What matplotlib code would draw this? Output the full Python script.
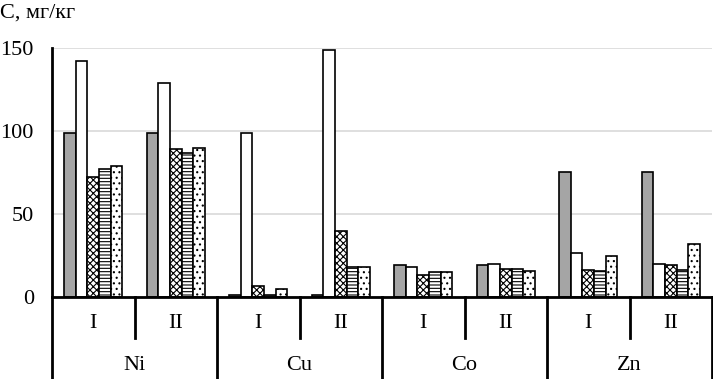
import matplotlib
matplotlib.use("Agg")
import matplotlib.pyplot as plt
import numpy as np

# subgroups: Ni I, Ni II, Cu I, Cu II, Co I, Co II, Zn I, Zn II
elements = ["Ni", "Cu", "Co", "Zn"]
periods = ["I", "II"]

s_gray = [99, 99, 1.5, 1.5, 19.3, 19.3, 75, 75]
s_white = [142, 129, 99, 149, 18.3, 20, 26.7, 19.7]
s_cross = [72, 89, 6.6, 40, 13, 17, 16, 19]
s_horiz = [77.3, 86.5, 1, 18, 14.8, 17, 15.5, 16.5]
s_dots = [79, 89.5, 5, 18, 14.8, 15.5, 25, 31.7]

plt.rcParams['font.family'] = ['Liberation Serif', 'DejaVu Serif']
plt.rcParams['hatch.linewidth'] = 0.8

fig = plt.figure(figsize=(7.13, 3.79), dpi=100)
ax = fig.add_axes([52/713, 1-297/379, 660/713, 249/379])

series = [s_gray, s_white, s_cross, s_horiz, s_dots]
faces = ["#a5a5a5", "white", "white", "white", "white"]
hatches = [None, None, "xxxxx", "-----", "..."]
w = 0.14
x = np.arange(8) + 0.5
for j, vals in enumerate(series):
    ax.bar(x + (j-2)*w, vals, width=w, color=faces[j], edgecolor="black",
           linewidth=1.2, hatch=hatches[j], zorder=3)

ax.set_xlim(0, 8)
ax.set_ylim(0, 150)
ax.set_yticks([0, 50, 100, 150])
ax.tick_params(axis='y', length=0, labelsize=16, pad=13)
ax.set_xticks([])
ax.yaxis.grid(True, color="#d9d9d9", linewidth=1.2, zorder=0)
for s in ["top", "right"]:
    ax.spines[s].set_visible(False)
ax.spines["left"].set_linewidth(2)
ax.spines["bottom"].set_linewidth(2)
ax.spines["bottom"].set_zorder(4)

# multi-level category axis below the plot
ax_h = 249.0
def yfrac(py):
    return -(py - 297) / ax_h

tr = ax.get_xaxis_transform()
for b in [0, 2, 4, 6, 8]:
    ax.plot([b, b], [0, yfrac(379)], color="black", lw=2, transform=tr, clip_on=False)
for b in [1, 3, 5, 7]:
    ax.plot([b, b], [0, yfrac(338)], color="black", lw=2, transform=tr, clip_on=False)
for i in range(8):
    ax.text(i + 0.5, yfrac(323), periods[i % 2], transform=tr, ha="center",
            va="center", fontsize=16)
for k, el in enumerate(elements):
    ax.text(2*k + 1, yfrac(365), el, transform=tr, ha="center", va="center",
            fontsize=16)

fig.text(0.0, 1-13/379, "С, мг/кг", ha="left", va="center", fontsize=16)

fig.savefig("out.png", dpi=100)
